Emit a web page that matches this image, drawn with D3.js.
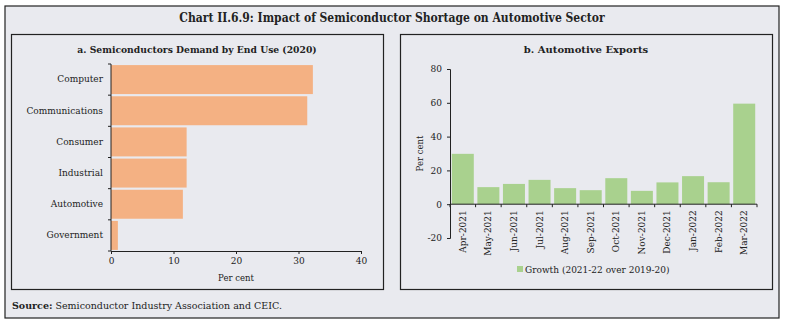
<!DOCTYPE html>
<html>
<head>
<meta charset="utf-8">
<script src="https://cdn.jsdelivr.net/npm/d3@7"></script>
<style>
  body { margin: 0; background: #fff; }
  svg text { font-family: "DejaVu Serif", "Liberation Serif", serif; fill: #222; }
</style>
</head>
<body>
<svg id="chart" width="785" height="325"></svg>
<script>
// panel a: semiconductor demand by end use (2020), per cent
const endUses = ["Computer", "Communications", "Consumer", "Industrial", "Automotive", "Government"];
const endUseShare = [32.3, 31.4, 12.1, 12.1, 11.5, 1.1];
const shareTicks = [0, 10, 20, 30, 40];

// panel b: automotive exports growth, 2021-22 over 2019-20
const months = ["Apr-2021", "May-2021", "Jun-2021", "Jul-2021", "Aug-2021", "Sep-2021",
  "Oct-2021", "Nov-2021", "Dec-2021", "Jan-2022", "Feb-2022", "Mar-2022"];
const growth = [29.8, 10.1, 12.0, 14.4, 9.5, 8.3, 15.4, 7.9, 12.9, 16.6, 13.0, 59.5];
const growthTicks = [-20, 0, 20, 40, 60, 80];

const bg = "#e9eaef";
const svg = d3.select("#chart");

// outer frame
svg.append("rect").attr("x", 5).attr("y", 6).attr("width", 774).attr("height", 312)
  .attr("fill", bg).attr("stroke", "#222").attr("stroke-width", 1.2);
svg.append("text").attr("x", 392).attr("y", 22).attr("text-anchor", "middle")
  .style("font-size", "12px").style("font-weight", "bold").style("font-stretch", "condensed")
  .text("Chart II.6.9: Impact of Semiconductor Shortage on Automotive Sector");

// panel boxes
[[11.5, 372], [400.5, 372]].forEach(([x, w]) => {
  svg.append("rect").attr("x", x).attr("y", 34.5).attr("width", w).attr("height", 255)
    .attr("fill", bg).attr("stroke", "#222").attr("stroke-width", 1.2);
});

// ---- panel a
const ga = svg.append("g");
ga.append("text").attr("x", 197).attr("y", 53).attr("text-anchor", "middle")
  .style("font-size", "9.2px").style("font-weight", "bold")
  .text("a. Semiconductors Demand by End Use (2020)");

const xa = d3.scaleLinear().domain([0, 40]).range([111, 361]);
const ya = d3.scaleBand().domain(endUses).range([64, 251]).paddingInner(0.07).paddingOuter(0.035);

ga.selectAll("rect.bar").data(endUses).join("rect").attr("class", "bar")
  .attr("x", xa(0)).attr("y", (d) => ya(d))
  .attr("width", (d, i) => xa(endUseShare[i]) - xa(0)).attr("height", ya.bandwidth())
  .attr("fill", "#f4b183");

const axL = ga.append("g").attr("transform", `translate(${xa(0)},0)`)
  .call(d3.axisLeft(ya).tickSizeOuter(0).tickSizeInner(0).tickPadding(8));
axL.select(".domain").remove();
axL.selectAll("text").style("font-size", "9px").attr("font-family", null);
// axis line and tick marks at band boundaries
ga.append("line").attr("x1", xa(0)).attr("x2", xa(0)).attr("y1", 64).attr("y2", 251)
  .attr("stroke", "#222");
ga.selectAll("line.bt").data(d3.range(endUses.length + 1)).join("line").attr("class", "bt")
  .attr("x1", xa(0) - 3).attr("x2", xa(0))
  .attr("y1", (i) => 64 + i * (251 - 64) / endUses.length)
  .attr("y2", (i) => 64 + i * (251 - 64) / endUses.length).attr("stroke", "#222");

const axB = ga.append("g").attr("transform", "translate(0,251)")
  .call(d3.axisBottom(xa).tickValues(shareTicks).tickSizeOuter(0).tickSize(3).tickPadding(4));
axB.selectAll("text").style("font-size", "9px").attr("font-family", null);
axB.selectAll("line,path").attr("stroke", "#222");
ga.append("text").attr("x", xa(20)).attr("y", 281).attr("text-anchor", "middle")
  .style("font-size", "8.5px").text("Per cent");

// ---- panel b
const gb = svg.append("g");
gb.append("text").attr("x", 586).attr("y", 53).attr("text-anchor", "middle")
  .style("font-size", "10px").style("font-weight", "bold").text("b. Automotive Exports");

const xb = d3.scaleBand().domain(months).range([450, 757]).paddingInner(0.14).paddingOuter(0.07);
const yb = d3.scaleLinear().domain([-20, 80]).range([238, 69]);

gb.selectAll("rect.bar").data(months).join("rect").attr("class", "bar")
  .attr("x", (d) => xb(d)).attr("width", xb.bandwidth())
  .attr("y", (d, i) => yb(Math.max(0, growth[i])))
  .attr("height", (d, i) => Math.abs(yb(growth[i]) - yb(0)))
  .attr("fill", "#a9d18e");

const axY = gb.append("g").attr("transform", "translate(450,0)")
  .call(d3.axisLeft(yb).tickValues(growthTicks).tickFormat((d) => String(d))
    .tickSizeOuter(0).tickSize(3).tickPadding(5));
axY.selectAll("text").style("font-size", "9px").attr("font-family", null);
axY.selectAll("line,path").attr("stroke", "#222");

gb.append("line").attr("x1", 450).attr("x2", 757).attr("y1", yb(0)).attr("y2", yb(0))
  .attr("stroke", "#222");
const step = (757 - 450) / months.length;
gb.selectAll("line.bt").data(d3.range(months.length + 1)).join("line").attr("class", "bt")
  .attr("x1", (i) => 450 + i * step).attr("x2", (i) => 450 + i * step)
  .attr("y1", yb(0)).attr("y2", yb(0) + 3).attr("stroke", "#222");

gb.selectAll("text.month").data(months).join("text").attr("class", "month")
  .attr("transform", (d) => `translate(${xb(d) + xb.bandwidth() / 2 + 3},${yb(0) + 6}) rotate(-90)`)
  .attr("text-anchor", "end").style("font-size", "9px").text((d) => d);

gb.append("text").attr("transform", `translate(423,${yb(30)}) rotate(-90)`)
  .attr("text-anchor", "middle").style("font-size", "8.5px").text("Per cent");

// legend
gb.append("rect").attr("x", 517).attr("y", 266).attr("width", 6).attr("height", 6).attr("fill", "#a9d18e");
gb.append("text").attr("x", 525).attr("y", 272.5).style("font-size", "9px")
  .text("Growth (2021-22 over 2019-20)");

// source
svg.append("text").attr("x", 12).attr("y", 309).style("font-size", "9.5px")
  .call((t) => {
    t.append("tspan").style("font-weight", "bold").text("Source:");
    t.append("tspan").text(" Semiconductor Industry Association and CEIC.");
  });
</script>
</body>
</html>
